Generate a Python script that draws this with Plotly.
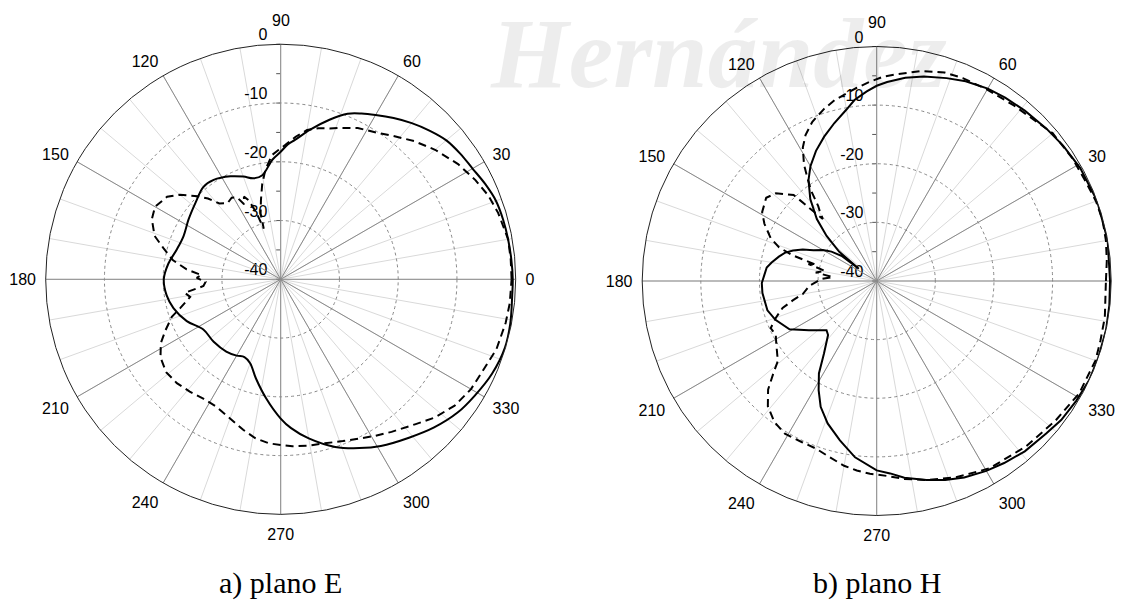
import plotly.graph_objects as go

# ---------------- data (dB vs angle in degrees) ----------------
angle_ticks = [0, 30, 60, 90, 120, 150, 180, 210, 240, 270, 300, 330]
angle_labels = ["0", "30", "60", "", "120", "150", "180", "210", "240", "270", "300", "330"]
top_angle_label = "90"
radial_labels_vals = [0, -10, -20, -30, -40]
radial_minor_ticks = [-40, -35, -30, -25, -20, -15, -10, -5, 0]
radial_grid = [-30, -20, -10]

# plano E - solid (simulated)
e_sol_theta = [0, 5, 10, 15, 20, 25, 30, 35, 40, 45, 50, 55, 60, 64, 68, 73, 79, 84, 87, 90,
               94, 100, 105, 110, 116, 124, 130, 138, 147, 156, 164, 172, 180, 188, 195, 204,
               213, 223, 233, 240, 245, 250, 256, 263, 270, 274, 280, 288, 295, 301, 309, 316,
               323, 329, 336, 343, 349, 356, 360]
e_sol_db = [-0.5, -0.6, -0.7, -0.8, -1.0, -1.6, -2.3, -2.7, -3.2, -4.2, -5.3, -6.5, -7.7, -8.6,
            -9.6, -11.6, -14.1, -16.1, -17.0, -18.3, -19.6, -22.0, -22.2, -21.4, -20.5, -19.6,
            -19.5, -20.5, -21.3, -21.9, -21.6, -20.7, -20.1, -20.4, -21.1, -22.5, -24.3, -24.4,
            -24.6, -25.0, -25.4, -24.8, -22.6, -19.6, -16.3, -14.6, -12.5, -10.0, -8.3, -6.9,
            -5.3, -3.7, -2.3, -1.5, -0.6, -0.1, -0.2, -0.5, -0.5]

# plano E - dashed (measured)
e_das_theta = [0, 5, 10, 17, 22, 27, 33, 40, 46, 52, 57, 63, 68, 72, 76, 80, 84, 88, 91, 94,
               98, 101, 104, 107, 108.5, 110, 112, 114, 116, 118, 121, 125, 129, 132, 135, 140,
               144, 150, 155, 161, 165, 170, 174, 177, 179, 182, 185, 188, 191, 196, 199, 204,
               208, 213, 219, 225, 231, 237, 243, 250, 256, 261, 266, 270, 274, 279, 285, 291,
               296, 301, 306, 313, 318, 324, 330, 337, 342, 349, 354, 360]
e_das_db = [-0.7, -0.7, -0.7, -1.3, -1.9, -2.8, -4.0, -5.7, -7.3, -9.0, -10.2, -11.1, -12.2,
            -13.0, -13.5, -14.2, -15.6, -17.1, -18.0, -18.8, -21.2, -23.5, -26.1, -28.3, -30.9,
            -28.0, -25.5, -24.6, -25.8, -24.2, -23.8, -24.2, -23.4, -21.5, -20.0, -17.6, -16.1,
            -15.3, -15.8, -17.3, -19.3, -21.4, -23.9, -26.5, -25.7, -27.2, -26.8, -23.5, -24.3,
            -22.2, -20.4, -18.5, -16.9, -15.6, -14.9, -15.0, -15.4, -15.8, -15.7, -14.8, -13.6,
            -12.6, -12.0, -11.8, -11.5, -11.3, -11.1, -10.5, -9.8, -8.9, -7.9, -6.3, -4.8, -3.4,
            -2.6, -2.1, -1.4, -1.0, -0.8, -0.7]

# plano H - solid (simulated)
h_sol_theta = [0, 10, 20, 29, 36, 42, 49, 55, 60, 66, 71, 77, 82, 87, 90, 93, 97, 100, 105,
               110, 115, 120, 124, 129, 134, 138, 142, 145.5, 144.5, 147, 150, 154, 157, 160,
               163, 166, 170, 173, 177, 181, 186, 195, 201, 209, 216, 224.5, 228, 234, 238,
               242, 246, 251, 257, 263, 270, 274, 278, 284, 289, 294, 300, 305, 311, 318, 323,
               329, 335, 341, 348, 354, 360]
h_sol_db = [-0.2, 0.0, 0.0, -0.3, -0.7, -1.1, -1.5, -1.8, -2.1, -2.7, -3.4, -4.2, -5.0, -6.0,
            -6.7, -7.6, -8.9, -10.3, -12.1, -13.8, -15.5, -17.4, -19.2, -22.0, -25.3, -28.5,
            -31.9, -36.3, -32.6, -30.8, -29.4, -28.0, -26.3, -24.8, -23.6, -22.8, -21.8, -21.1,
            -20.8, -20.4, -20.4, -20.7, -21.5, -23.0, -25.7, -28.0, -27.6, -24.7, -21.4, -18.9,
            -16.5, -14.3, -12.1, -9.7, -7.7, -7.1, -6.1, -5.0, -4.1, -3.3, -2.6, -2.1, -1.5,
            -1.1, -0.6, -0.3, 0.0, 0.0, 0.0, -0.1, -0.2]

# plano H - dashed (measured)
h_das_theta = [0, 5, 10, 15, 20, 25, 32, 40, 44, 52, 60, 67, 72, 78, 84, 88, 92, 96, 103, 107,
               112, 116, 119, 122, 124, 126, 128, 129, 131, 134, 139, 143, 149, 153, 158, 161,
               163, 165, 166, 169, 172, 175, 178, 180, 184, 190, 193, 196, 200, 204, 208, 212,
               219, 222, 225, 229, 234, 239, 245, 250, 255, 260, 264, 268, 273, 278, 284, 292,
               301, 312, 322, 331, 340, 345, 351, 360]
h_das_db = [-0.9, -0.6, -0.3, -0.1, -0.2, -0.5, -0.6, -0.8, -1.4, -2.0, -2.3, -2.4, -2.6, -3.4,
            -4.5, -5.1, -6.0, -6.9, -8.3, -9.3, -10.7, -12.3, -14.0, -16.6, -18.9, -21.0, -23.8,
            -24.5, -26.0, -19.6, -17.2, -16.4, -17.2, -18.5, -20.5, -22.4, -25.0, -29.3, -28.0,
            -31.0, -29.5, -32.5, -30.5, -30.0, -28.5, -27.2, -25.3, -23.3, -21.7, -20.2, -20.5,
            -19.8, -18.3, -16.2, -13.8, -11.7, -10.3, -9.6, -9.7, -9.6, -8.9, -8.0, -7.5, -7.1,
            -6.7, -5.9, -5.0, -3.9, -2.7, -2.0, -1.3, -0.5, -0.3, -0.5, -0.6, -0.9]

captions = ["a) plano E", "b) plano H"]
watermark = "Hernández"

# ---------------- figure ----------------
W, H = 1127, 611
OFF = 8  # page body margin in the browser
FONT = "Liberation Sans, Arial, sans-serif"
SERIF = "Liberation Serif, Times New Roman, serif"

def px_x(x):
    return (x - OFF) / W

def px_y(y):
    return 1 - (y - OFF) / H

def dom(cx, cy, R):
    return dict(x=[px_x(cx - R), px_x(cx + R)], y=[px_y(cy + R), px_y(cy - R)])

charts = [dict(cx=280.7, cy=279.3, R=235.0), dict(cx=876.7, cy=281.0, R=234.5)]

def base_polar(c):
    return dict(
        domain=dom(c["cx"], c["cy"], c["R"]), bgcolor="white",
        angularaxis=dict(rotation=0, direction="counterclockwise", dtick=10,
                         showgrid=True, gridcolor="#d9d9d9", gridwidth=1,
                         showticklabels=False, ticks="", showline=False),
        radialaxis=dict(range=[-40, 0], angle=90, tickmode="array", tickvals=radial_minor_ticks,
                        showticklabels=False, ticks="outside", ticklen=4, tickcolor="#555",
                        side="counterclockwise", showgrid=False, showline=False),
    )

def top_polar(c):
    return dict(
        domain=dom(c["cx"], c["cy"], c["R"]), bgcolor="rgba(0,0,0,0)",
        angularaxis=dict(rotation=0, direction="counterclockwise", tickmode="array",
                         tickvals=angle_ticks, ticktext=angle_labels,
                         showgrid=True, gridcolor="#8a8a8a", gridwidth=1,
                         ticks="outside", ticklen=6, tickcolor="rgba(0,0,0,0)",
                         showline=True, linecolor="#222", linewidth=1,
                         tickfont=dict(family=FONT, size=16, color="black")),
        radialaxis=dict(range=[-40, 0], angle=90, tickmode="array", tickvals=radial_grid,
                        showticklabels=False, ticks="", showgrid=True, gridcolor="#888",
                        gridwidth=1, griddash="dot", showline=False),
    )

fig = go.Figure()

NB = "\u00a0"
radial_text = [str(v) + NB * 3 for v in radial_labels_vals]
for sub in ["polar", "polar3"]:
    fig.add_trace(go.Scatterpolar(
        theta=[90] * len(radial_labels_vals), r=radial_labels_vals, text=radial_text,
        mode="text", textposition="top left", cliponaxis=False,
        textfont=dict(family=FONT, size=16, color="black"),
        subplot=sub, showlegend=False, hoverinfo="skip"))

def curve(theta, r, sub, dash, shape):
    return go.Scatterpolar(theta=theta, r=r, mode="lines", subplot=sub, showlegend=False,
                           line=dict(color="black", width=2, dash=dash, shape=shape),
                           cliponaxis=False)

fig.add_trace(curve(e_das_theta, e_das_db, "polar2", "8px,5px", "linear"))
fig.add_trace(curve(e_sol_theta, e_sol_db, "polar2", "solid", "spline"))
fig.add_trace(curve(h_das_theta, h_das_db, "polar4", "8px,5px", "linear"))
fig.add_trace(curve(h_sol_theta, h_sol_db, "polar4", "solid", "linear"))

annotations = [
    dict(text=watermark, x=px_x(718), y=px_y(54), xref="paper", yref="paper",
         xanchor="center", yanchor="middle", showarrow=False,
         font=dict(family=SERIF, size=100, color="rgba(0,0,0,0.07)", style="italic",
                   weight="bold")),
]
for c, cap in zip(charts, captions):
    annotations.append(dict(text=cap, x=px_x(c["cx"]), y=px_y(583), xref="paper", yref="paper",
                            xanchor="center", yanchor="middle", showarrow=False,
                            font=dict(family=SERIF, size=30, color="black")))
    # the "90" angle label sits a bit higher than the others in the reference
    annotations.append(dict(text=top_angle_label, x=px_x(c["cx"]), y=px_y(c["cy"] - c["R"] - 24),
                            xref="paper", yref="paper", xanchor="center", yanchor="middle",
                            showarrow=False, font=dict(family=FONT, size=16, color="black")))

fig.update_layout(
    width=W, height=H, autosize=False,
    margin=dict(l=0, r=0, t=0, b=0),
    paper_bgcolor="white", plot_bgcolor="white",
    showlegend=False,
    polar=base_polar(charts[0]), polar2=top_polar(charts[0]),
    polar3=base_polar(charts[1]), polar4=top_polar(charts[1]),
    annotations=annotations,
)

fig.write_html("out.html")
